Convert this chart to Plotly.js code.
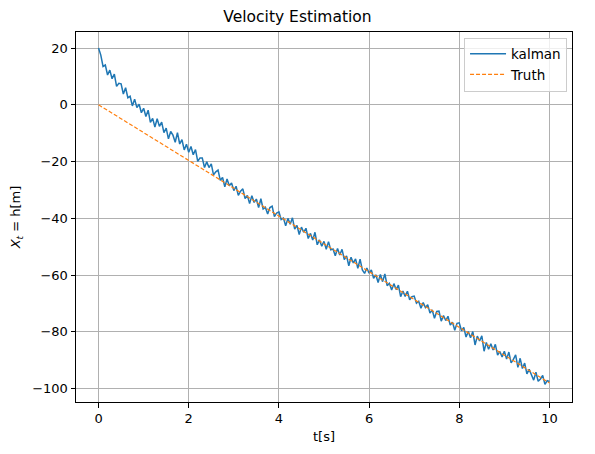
<!DOCTYPE html>
<html>
<head>
<meta charset="utf-8">
<script src="https://cdn.plot.ly/plotly-3.0.1.min.js"></script>
<style>html,body{margin:0;padding:0;background:#fff}#chart{width:595px;height:454px}</style>
</head>
<body>
<div id="chart"></div>
<script>
// time step of the estimate series (s)
const dt = 0.05;
const kalmanValues = [
  20, 17.5, 13.5, 14, 10.5, 12.2, 9.2, 10.8, 6.5, 7.6, 7.4, 3.8, 6, 2.5, 3, -0.4, 2, -1, 0.2, -2.8,
  -1.2, -4.1, -1.9, -6.2, -4.8, -7.8, -4.9, -7.6, -6.1, -9.8, -8.2, -12, -9.4, -10.7, -13.2, -9.8, -13.8, -12.3, -15.9, -13.9,
  -16.7, -14.7, -17.6, -15.8, -19.9, -18.7, -18.7, -22.1, -20.1, -22.1, -20.8, -24.7, -23.6, -23, -26.6, -25.6, -28.9, -26.1, -28.5, -27.5,
  -30.2, -28.7, -31.9, -30.4, -29.6, -33, -31.9, -34.8, -32, -34.4, -33.2, -36.2, -33.1, -36.7, -36.1, -38.5, -36.2, -35.7, -39.4, -38.1,
  -37.7, -40.4, -39.9, -42.6, -40, -42.1, -39.8, -43.8, -42.5, -45.7, -43.1, -44.9, -43.5, -47.1, -45.3, -47.6, -44.9, -49.3, -47.6, -49.8,
  -48.1, -50.9, -48.2, -51.1, -50.8, -53.2, -50.6, -52.9, -50.9, -54.5, -53.2, -56.7, -53.7, -55.7, -54.3, -57.6, -54.4, -58.2, -59.4, -57.5,
  -59.3, -58.2, -61.1, -59.9, -62.6, -59.8, -62.3, -59.6, -63.7, -62.9, -65.2, -63, -65.1, -63.5, -67.6, -65.6, -67.5, -65.7, -68.7, -67.6,
  -67.4, -69.9, -69.2, -71.7, -69.7, -71.4, -70.4, -73.4, -72.3, -75.2, -72.8, -72.7, -76.2, -74.2, -76, -74.5, -77.6, -76.6, -79.4, -77,
  -76.8, -79.6, -78.4, -81.8, -79.9, -82.1, -79.9, -84.6, -81.5, -83.2, -81.4, -86.8, -83.7, -86.1, -84.2, -86.4, -84.4, -88.2, -86.9, -88.8,
  -86.8, -89.6, -87.1, -90.9, -89.7, -88.1, -92.5, -89.3, -92.9, -91, -94.8, -93.2, -95.1, -97, -94.2, -97.4, -96.6, -95.3, -98.5, -97.2, -97.5
];
const truthT = [0, 10];
const truthValues = [0, -98];
const xTicks = [0, 2, 4, 6, 8, 10];
const yTicks = [-100, -80, -60, -40, -20, 0, 20];

const kalmanT = kalmanValues.map((_, i) => +(i * dt).toFixed(2));

const font = {family: 'DejaVu Sans', size: 13, color: '#000'};
const axisCommon = {
  showline: true, linecolor: '#000', linewidth: 1, mirror: true,
  ticks: 'outside', ticklen: 4.5, tickwidth: 1, tickcolor: '#000',
  showgrid: true, gridcolor: '#b0b0b0', gridwidth: 1,
  zeroline: false, tickfont: font
};

const data = [
  {x: kalmanT, y: kalmanValues, type: 'scatter', mode: 'lines', name: 'kalman',
   line: {color: '#1f77b4', width: 1.5}},
  {x: truthT, y: truthValues, type: 'scatter', mode: 'lines', name: 'Truth',
   line: {color: '#ff7f0e', width: 1.2, dash: '4px,2px'}}
];
const layout = {
  width: 595, height: 454,
  margin: {l: 76, r: 23, t: 32, b: 52},
  paper_bgcolor: '#fff', plot_bgcolor: '#fff',
  font: font,
  title: {text: 'Velocity Estimation', font: {family: 'DejaVu Sans', size: 15.5, color: '#000'},
          x: 0.5, xanchor: 'center', y: 1 - 17/454, yanchor: 'middle'},
  xaxis: Object.assign({}, axisCommon, {
    range: [-0.5, 10.5], tickvals: xTicks, ticktext: xTicks.map(String),
    title: {text: 't[s]', font: font, standoff: 6}
  }),
  yaxis: Object.assign({}, axisCommon, {
    range: [-104.7, 25.65], tickvals: yTicks,
    title: {text: '<i>X</i><sub><i>t</i></sub> = h[m]', font: font, standoff: 8}
  }),
  legend: {x: 0.99, xanchor: 'right', y: 0.985, yanchor: 'top',
    bgcolor: 'rgba(255,255,255,0.8)', bordercolor: '#cccccc', borderwidth: 1,
    font: {family: 'DejaVu Sans', size: 13.5, color: '#000'}, tracegroupgap: 0, itemwidth: 36},
  showlegend: true
};
Plotly.newPlot('chart', data, layout, {displayModeBar: false, staticPlot: true});
</script>
</body>
</html>
